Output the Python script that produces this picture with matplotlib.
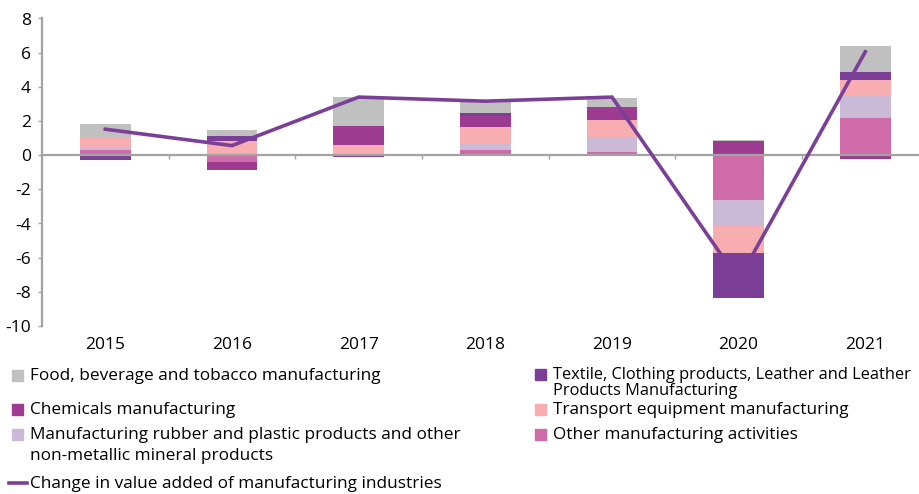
import matplotlib
matplotlib.use("Agg")
import matplotlib.pyplot as plt
from matplotlib.patches import Rectangle
from matplotlib.lines import Line2D
import numpy as np

plt.rcParams['font.family'] = ['Open Sans', 'DejaVu Sans']
plt.rcParams['axes.unicode_minus'] = False

years = ["2015", "2016", "2017", "2018", "2019", "2020", "2021"]

# Contributions by industry (percentage points), stacking order from the axis outwards
other_mfg = [0.30, -0.42, 0.00, 0.29, 0.20, -2.63, 2.18]
rubber_plastic = [0.20, 0.00, 0.00, 0.45, 0.85, -1.50, 1.29]
transport_eq = [0.57, 0.84, 0.60, 0.92, 0.98, -1.62, 0.92]
chemicals = [0.00, -0.42, 1.12, 0.62, 0.80, 0.82, -0.25]
textile = [-0.27, 0.29, -0.10, 0.16, 0.00, -2.63, 0.48]
food_bev = [0.73, 0.33, 1.70, 0.68, 0.50, 0.06, 1.50]

# Total change in value added of manufacturing industries (%)
total_change = [1.52, 0.56, 3.40, 3.16, 3.40, -7.30, 6.05]

series = [
    ("Other manufacturing activities", other_mfg, "#cf6ba8"),
    ("Manufacturing rubber and plastic products and other\nnon-metallic mineral products", rubber_plastic, "#cbb9d8"),
    ("Transport equipment manufacturing", transport_eq, "#f8adb1"),
    ("Chemicals manufacturing", chemicals, "#9c3b8f"),
    ("Textile, Clothing products, Leather and Leather\nProducts Manufacturing", textile, "#7b3f98"),
    ("Food, beverage and tobacco manufacturing", food_bev, "#c0c0c0"),
]
line_color = "#7b3f98"
axis_gray = "#a3a3a3"

W, H = 919, 494
fig = plt.figure(figsize=(W / 100, H / 100), dpi=100)
ax = fig.add_axes([42 / W, 1 - 326 / H, 886.6 / W, (326 - 18.5) / H])

x = np.arange(len(years))
pos_base = np.zeros(len(years))
neg_base = np.zeros(len(years))
for name, vals, color in series:
    v = np.array(vals, dtype=float)
    base = np.where(v >= 0, pos_base, neg_base)
    ax.bar(x, v, width=0.40, bottom=base, color=color, edgecolor="none", zorder=2)
    pos_base += np.where(v >= 0, v, 0)
    neg_base += np.where(v < 0, v, 0)

ax.plot(x, total_change, color=line_color, linewidth=2.6, zorder=4,
        solid_joinstyle="miter")

ax.set_xlim(-0.5, len(years) - 0.5)
ax.set_ylim(-10, 8)
ax.set_yticks(np.arange(-10, 9, 2))
ax.tick_params(axis="y", direction="out", length=3, width=1, color=axis_gray,
               labelsize=12.5, pad=5)

for s in ["top", "right"]:
    ax.spines[s].set_visible(False)
ax.spines["left"].set_color(axis_gray)
ax.spines["left"].set_linewidth(1.6)
ax.spines["bottom"].set_position(("data", 0))
ax.spines["bottom"].set_color(axis_gray)
ax.spines["bottom"].set_linewidth(1.6)
ax.spines["bottom"].set_zorder(3)
ax.set_xticks(x)
ax.set_xticklabels([])
ax.tick_params(axis="x", which="major", length=0)
ax.set_xticks(x[:-1] + 0.5, minor=True)
ax.tick_params(axis="x", which="minor", direction="out", length=3, width=1,
               color=axis_gray)

sec = ax.secondary_xaxis(0)
sec.set_xticks(x, labels=years)
sec.tick_params(length=0, labelsize=12.5, pad=8)
sec.spines["bottom"].set_visible(False)

# Legend drawn as two columns under the plot
def legend_patch(px, py, color):
    fig.patches.append(Rectangle((px / W, 1 - (py + 5.5) / H), 11 / W, 11 / H,
                                 transform=fig.transFigure, color=color))

lookup = {name: color for name, _, color in series}
# (x, y of first text line centre, label, font size, line spacing)
entries = [
    (12, 375, "Food, beverage and tobacco manufacturing", 12.4, 1.0),
    (12, 409, "Chemicals manufacturing", 12.4, 1.0),
    (12, 434, "Manufacturing rubber and plastic products and other\nnon-metallic mineral products", 12.4, 1.38),
    (535, 374, "Textile, Clothing products, Leather and Leather\nProducts Manufacturing", 11.8, 1.02),
    (535, 409, "Transport equipment manufacturing", 12.4, 1.0),
    (535, 434, "Other manufacturing activities", 12.4, 1.0),
]
for px, py, name, fs, ls in entries:
    legend_patch(px, py, lookup[name])
    fig.text((px + 18) / W, 1 - (py - 7) / H, name, fontsize=fs, va="top",
             ha="left", linespacing=ls)

fig.lines.append(Line2D([9 / W, 27 / W], [1 - 483 / H, 1 - 483 / H],
                        transform=fig.transFigure, color=line_color, linewidth=2.6))
fig.text(30 / W, 1 - 476 / H, "Change in value added of manufacturing industries",
         fontsize=12.4, va="top", ha="left")

fig.savefig("out.png", dpi=100)
